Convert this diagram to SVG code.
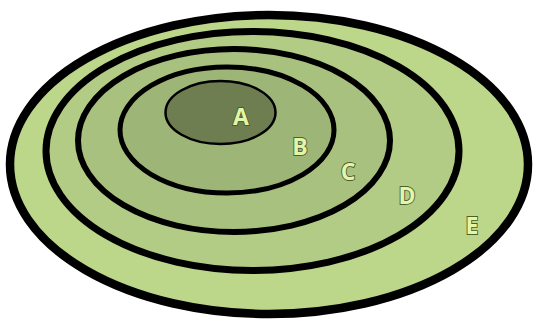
<svg xmlns="http://www.w3.org/2000/svg" width="536" height="320" viewBox="0 0 536 320">
<style>
.ring{stroke:#000;}
.lbl{font-family:"Open Sans","DejaVu Sans",sans-serif;font-weight:700;font-size:23px;fill:#e4f5a6;stroke:#4d5e2e;stroke-width:1.8;text-anchor:middle;paint-order:stroke;}
</style>
<rect width="536" height="320" fill="#ffffff"/>
<g id="E"><ellipse class="ring" cx="269" cy="164.5" rx="259" ry="149.5" fill="#bcd68a" stroke-width="8.5"/></g>
<g id="D"><ellipse class="ring" cx="252.5" cy="151" rx="206.5" ry="119.5" fill="#b3cc85" stroke-width="7"/></g>
<g id="C"><ellipse class="ring" cx="234" cy="140.5" rx="156" ry="91.5" fill="#a8c17f" stroke-width="6"/></g>
<g id="B"><ellipse class="ring" cx="227" cy="130" rx="107" ry="63" fill="#9db576" stroke-width="5"/></g>
<g id="A"><ellipse class="ring" cx="220.5" cy="112.5" rx="55" ry="31.5" fill="#6e7e50" stroke-width="2.5"/></g>
<g id="labels">
<text class="lbl" x="241" y="124.5">A</text>
<text class="lbl" x="300" y="154.5">B</text>
<text class="lbl" x="348" y="179.5">C</text>
<text class="lbl" x="407" y="203.5">D</text>
<text class="lbl" x="472" y="233.5">E</text>
</g>
</svg>
